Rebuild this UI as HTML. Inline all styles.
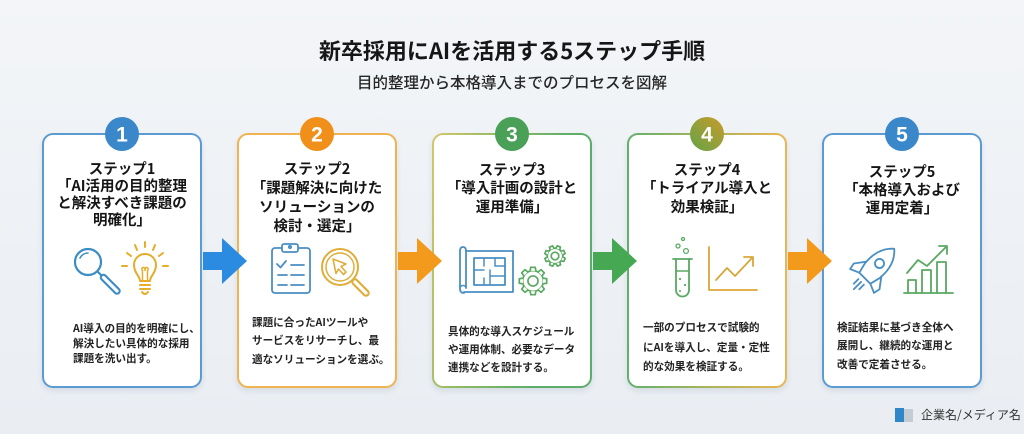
<!DOCTYPE html>
<html><head><meta charset="utf-8">
<style>
*{margin:0;padding:0;box-sizing:border-box}
html,body{width:1024px;height:434px;overflow:hidden}
body{position:relative;background:linear-gradient(180deg,#f3f5f8 0%,#edf1f5 60%,#eaeef3 100%);font-family:"Liberation Sans","Noto Sans CJK JP",sans-serif;color:#1c1c1c}
.t1{position:absolute;left:0;width:1024px;top:35px;line-height:30px;text-align:center;font-size:22px;font-weight:700;font-family:"Noto Sans CJK JP",sans-serif;color:#161616}
.t2{position:absolute;left:0;width:1024px;top:72px;line-height:20px;text-align:center;font-size:15.5px;font-weight:500;font-family:"Noto Sans CJK JP",sans-serif;color:#262626}
.card{position:absolute;top:133px;width:160px;height:255px;border:2px solid transparent;border-radius:11px;box-shadow:0 3px 6px rgba(20,50,90,0.10)}
.hd{position:absolute;left:0;width:156px;text-align:center;font-size:14.5px;font-weight:700;font-family:"Noto Sans CJK JP",sans-serif;color:#151515;white-space:nowrap}
.bd{position:absolute;font-size:10.6px;font-weight:700;font-family:"Noto Sans CJK JP",sans-serif;color:#222;white-space:nowrap}
.c1{left:42px;background:linear-gradient(#fff,#fff) padding-box,linear-gradient(#5b9bd2,#5b9bd2) border-box}
.c2{left:237px;background:linear-gradient(#fff,#fff) padding-box,linear-gradient(#f0b352,#f0b352) border-box}
.c3{left:432px;background:linear-gradient(#fff,#fff) padding-box,linear-gradient(100deg,#d6c76c 0%,#8fba62 35%,#5cae6a 70%) border-box}
.c4{left:627px;background:linear-gradient(#fff,#fff) padding-box,linear-gradient(90deg,#62b06c 0%,#a8b45a 50%,#ebb552 100%) border-box}
.c5{left:822px;background:linear-gradient(#fff,#fff) padding-box,linear-gradient(#5b9bd2,#5b9bd2) border-box}
svg{position:absolute;left:0;top:0}
.ft{position:absolute;left:921px;top:406px;line-height:18px;font-size:12px;font-family:"Noto Sans CJK JP",sans-serif;color:#333;white-space:nowrap}
</style></head>
<body>
<div class="t1">新卒採用にAIを活用する5ステップ手順</div>
<div class="t2">目的整理から本格導入までのプロセスを図解</div>

<div class="card c1">
  <div class="hd" style="top:24.5px;line-height:17px">ステップ1<br>「AI活用の目的整理<br>と解決すべき課題の<br>明確化」</div>
  <div class="bd" style="left:29px;top:185.5px;line-height:15px">AI導入の目的を明確にし、<br>解決したい具体的な採用<br>課題を洗い出す。</div>
</div>
<div class="card c2">
  <div class="hd" style="top:23.5px;line-height:19px">ステップ2<br>「課題解決に向けた<br>ソリューションの<br>検討・選定」</div>
  <div class="bd" style="left:13px;top:178.75px;line-height:18.5px">課題に合ったAIツールや<br>サービスをリサーチし、最<br>適なソリューションを選ぶ。</div>
</div>
<div class="card c3">
  <div class="hd" style="top:25.75px;line-height:18.5px">ステップ3<br>「導入計画の設計と<br>運用準備」</div>
  <div class="bd" style="left:14px;top:188px;line-height:18px">具体的な導入スケジュール<br>や運用体制、必要なデータ<br>連携などを設計する。</div>
</div>
<div class="card c4">
  <div class="hd" style="top:25.75px;line-height:18.5px">ステップ4<br>「トライアル導入と<br>効果検証」</div>
  <div class="bd" style="left:14px;top:183px;line-height:19.5px">一部のプロセスで試験的<br>にAIを導入し、定量・定性<br>的な効果を検証する。</div>
</div>
<div class="card c5">
  <div class="hd" style="top:28px;line-height:18px">ステップ5<br>「本格導入および<br>運用定着」</div>
  <div class="bd" style="left:13px;top:183.75px;line-height:18.5px">検証結果に基づき全体へ<br>展開し、継続的な運用と<br>改善で定着させる。</div>
</div>

<svg width="1024" height="434" viewBox="0 0 1024 434" xmlns="http://www.w3.org/2000/svg">
<defs>
  <linearGradient id="g4" x1="1" y1="0" x2="0" y2="1">
    <stop offset="0" stop-color="#c99b2a"/><stop offset="1" stop-color="#62a448"/>
  </linearGradient>
  <path id="tooth" d="M0.72 -0.2 L0.98 -0.16 L0.98 0.16 L0.72 0.2"/>
</defs>

<!-- arrows -->
<polygon points="203,252 222,252 222,238 247,261 222,284 222,270 203,270" fill="#2b8be0"/>
<polygon points="398,252 417,252 417,238 442,261 417,284 417,270 398,270" fill="#f39a1d"/>
<polygon points="593,252 612,252 612,238 637,261 612,284 612,270 593,270" fill="#46a853"/>
<polygon points="788,252 807,252 807,238 832,261 807,284 807,270 788,270" fill="#f39a1d"/>

<!-- number circles -->
<g font-family="Liberation Sans, sans-serif" font-weight="700" font-size="21" fill="#fff" text-anchor="middle">
  <circle cx="122" cy="134" r="17" fill="#3a88c9"/><text x="122" y="141.5">1</text>
  <circle cx="317" cy="134" r="17" fill="#f0901b"/><text x="317" y="141.5">2</text>
  <circle cx="512" cy="134" r="17" fill="#4aa056"/><text x="512" y="141.5">3</text>
  <circle cx="707" cy="134" r="17" fill="url(#g4)"/><text x="707" y="141.5">4</text>
  <circle cx="902" cy="134" r="17" fill="#3a88c9"/><text x="902" y="141.5">5</text>
</g>

<!-- card1 magnifier -->
<g stroke="#3d8dc5" stroke-width="2.2" fill="none" stroke-linecap="round">
  <circle cx="88" cy="262" r="13"/>
  <path d="M80 258 A9 9 0 0 1 88 253" stroke-width="1.6"/>
  <line x1="97.5" y1="271.5" x2="102" y2="276"/>
  <line x1="103.5" y1="277.5" x2="117" y2="291" stroke-width="7.5"/>
  <line x1="103.5" y1="277.5" x2="117" y2="291" stroke="#fff" stroke-width="3.2"/>
</g>
<!-- card1 bulb -->
<g stroke="#e6ad2a" stroke-width="2" fill="none" stroke-linecap="round" stroke-linejoin="round">
  <path d="M140 281 C140 276 134 273 134 265 A11 11 0 1 1 156 265 C156 273 150 276 150 281 Z"/>
  <path d="M140 285 H150 M140 289 H150 M142 292 Q145 296 148 292"/>
  <path d="M142.5 280 V271 Q141 268 143 267.5 Q145 267 145 270.5 Q145 267 147 267.5 Q149 268 147.5 271 V280" stroke-width="1.5"/>
  <path d="M145 242 V247 M135 245 L137 250 M155 245 L153 250 M127 253 L131 256 M163 253 L159 256 M122 266 H127 M168 266 H163"/>
</g>

<!-- card2 clipboard -->
<g stroke="#4a8fc3" stroke-width="1.8" fill="none" stroke-linecap="round" stroke-linejoin="round">
  <rect x="272" y="248" width="38" height="45" rx="3"/>
  <rect x="282" y="244" width="16" height="8" rx="2" fill="#fff"/>
  <circle cx="290" cy="247" r="1.2"/>
  <path d="M277 264 L280.5 267.5 L286 261"/>
  <path d="M291 265 H304 M278 275 H287 M291 275 H304 M278 285 H287 M291 285 H304"/>
</g>
<!-- card2 magnifier -->
<g stroke="#dfae3a" stroke-width="2" fill="none" stroke-linecap="round" stroke-linejoin="round">
  <circle cx="340" cy="267" r="18"/>
  <circle cx="340" cy="267" r="14" stroke-width="1.5"/>
  <line x1="355" y1="282" x2="366" y2="293" stroke-width="7.5"/>
  <line x1="355" y1="282" x2="366" y2="293" stroke="#fff" stroke-width="3.2"/>
  <path d="M333 259 L346 264 L341 266.5 L346 272 L343.5 274.5 L338.5 269 L336 273.5 Z" stroke-width="1.6"/>
</g>

<!-- card3 blueprint -->
<g stroke="#4a8fc3" stroke-width="1.8" fill="none" stroke-linecap="round" stroke-linejoin="round">
  <path d="M466 251 H513 V292 H464"/>
  <path d="M466 288 V251 Q466 247 463 247 Q460 247 460 251 V289 Q460 293 464 293"/>
  <path d="M466 288 Q466 285.5 463 285.5 Q460 285.5 460 289" stroke-width="1.4"/>
  <rect x="474" y="258" width="31" height="27"/>
  <path d="M474 270 H484 M484 258 V266 M490 270 V285 M490 276 H505 M484 278 V285 M495 258 V266 H505" stroke-width="1.5"/>
</g>
<!-- card3 gears -->
<g transform="translate(533 281) scale(14)" fill="#fff" stroke="#5aa862" stroke-width="0.12" stroke-linejoin="round">
  <circle r="0.74"/>
  <use href="#tooth"/><use href="#tooth" transform="rotate(45)"/><use href="#tooth" transform="rotate(90)"/><use href="#tooth" transform="rotate(135)"/>
  <use href="#tooth" transform="rotate(180)"/><use href="#tooth" transform="rotate(225)"/><use href="#tooth" transform="rotate(270)"/><use href="#tooth" transform="rotate(315)"/>
  <circle r="0.36" fill="none"/>
</g>
<g transform="translate(555 256) scale(10.5)" fill="#fff" stroke="#5aa862" stroke-width="0.16" stroke-linejoin="round">
  <circle r="0.74"/>
  <use href="#tooth" transform="rotate(22)"/><use href="#tooth" transform="rotate(67)"/><use href="#tooth" transform="rotate(112)"/><use href="#tooth" transform="rotate(157)"/>
  <use href="#tooth" transform="rotate(202)"/><use href="#tooth" transform="rotate(247)"/><use href="#tooth" transform="rotate(292)"/><use href="#tooth" transform="rotate(337)"/>
  <circle r="0.36" fill="none"/>
</g>

<!-- card4 tube -->
<g stroke="#5aa862" stroke-width="1.8" fill="none" stroke-linecap="round" stroke-linejoin="round">
  <path d="M676 259 V290 A6.5 6.5 0 0 0 689 290 V259"/>
  <path d="M673 259 H692"/>
  <path d="M676 271 H689" stroke-width="1.4"/>
  <circle cx="683" cy="239" r="1.5" stroke-width="1.3"/>
  <circle cx="678" cy="246" r="2" stroke-width="1.3"/>
  <circle cx="686" cy="251" r="2.4" stroke-width="1.3"/>
  <circle cx="680" cy="279" r="1.1" fill="#5aa862" stroke="none"/>
  <circle cx="685" cy="285" r="1.1" fill="#5aa862" stroke="none"/>
  <circle cx="680" cy="291" r="1" fill="#5aa862" stroke="none"/>
</g>
<!-- card4 chart -->
<g stroke="#d9a63a" stroke-width="1.8" fill="none" stroke-linecap="round" stroke-linejoin="round">
  <path d="M709 247 V290 H757"/>
  <path d="M716 280 L727 268 L735 276 L752 258"/>
  <path d="M744 257 H753 V266"/>
</g>

<!-- card5 rocket -->
<g transform="translate(874 269) rotate(45) scale(1.3)" stroke="#4a8fc3" stroke-width="1.4" fill="none" stroke-linecap="round" stroke-linejoin="round">
  <path d="M0 -22 C7 -16 9 -8 8 2 L6 10 H-6 L-8 2 C-9 -8 -7 -16 0 -22 Z"/>
  <circle cx="0" cy="-6" r="3.5"/>
  <path d="M-8 0 L-14 8 L-13 13 L-6 10 M8 0 L14 8 L13 13 L6 10"/>
  <path d="M-3 14 V19 M0 14 V22 M3 14 V19"/>
</g>
<!-- card5 bar chart -->
<g stroke="#5aa862" stroke-width="1.8" fill="none" stroke-linecap="round" stroke-linejoin="round">
  <path d="M908 293 V280 H916 V293 M922 293 V270 H931 V293 M937 293 V262 H946 V293"/>
  <path d="M904 293 H953"/>
  <path d="M907 273 L918 260 L927 266 L946 247"/>
  <path d="M939 246 H947 V254"/>
</g>

<!-- footer icon -->
<rect x="895" y="408" width="9" height="14" fill="#2f86c9"/>
<rect x="904" y="409" width="9" height="13" fill="#c5cbd3"/>
</svg>
<div class="ft">企業名/メディア名</div>
</body></html>
